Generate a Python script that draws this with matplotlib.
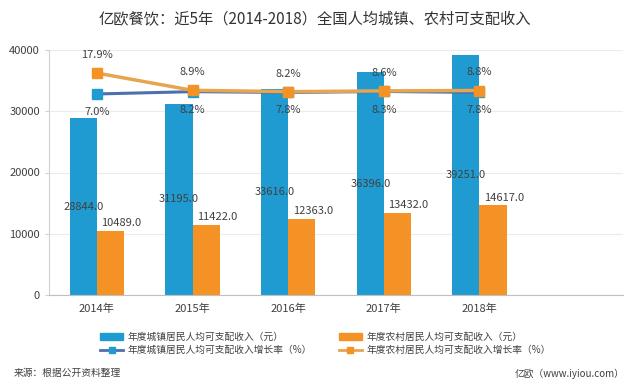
import matplotlib
matplotlib.use("Agg")
import matplotlib.pyplot as plt
from matplotlib.patches import Patch
from matplotlib.lines import Line2D
import numpy as np

plt.rcParams['font.family'] = ['Noto Sans CJK SC', 'DejaVu Sans']

years = ["2014年", "2015年", "2016年", "2017年", "2018年"]
urban_income = [28844.0, 31195.0, 33616.0, 36396.0, 39251.0]
rural_income = [10489.0, 11422.0, 12363.0, 13432.0, 14617.0]
urban_growth = [7.0, 8.2, 7.8, 8.3, 7.8]
rural_growth = [17.9, 8.9, 8.2, 8.6, 8.8]

labels = ["年度城镇居民人均可支配收入（元）", "年度城镇居民人均可支配收入增长率（%）",
          "年度农村居民人均可支配收入（元）", "年度农村居民人均可支配收入增长率（%）"]

BLUE = "#1f9bd1"
ORANGE = "#f59226"
BLUE_LINE = "#4a70ae"
ORANGE_LINE = "#e8a54f"
TXT = "#404040"

fig = plt.figure(figsize=(6.4, 3.85), dpi=100)
ax = fig.add_axes([49/640, 90/385, 574/640, 245/385])

x = np.arange(len(years))
w = 0.283
ax.bar(x - w/2, urban_income, w, color=BLUE, zorder=2)
ax.bar(x + w/2, rural_income, w, color=ORANGE, zorder=2)

for i in range(len(years)):
    ax.text(x[i] - w/2, urban_income[i] / 2, "%.1f" % urban_income[i],
            ha='center', va='center', fontsize=8, color=TXT, zorder=5)
    ax.annotate("%.1f" % rural_income[i], (x[i] + w/2, rural_income[i]),
                xytext=(8, 2), textcoords='offset points',
                ha='center', va='bottom', fontsize=8, color=TXT, zorder=5)

ax.set_xlim(-0.5, 5.5)
ax.set_ylim(0, 40000)
ax.set_yticks([0, 10000, 20000, 30000, 40000])
ax.set_xticks(x)
ax.set_xticklabels(years)
ax.tick_params(axis='x', length=0, pad=6, labelsize=8, labelcolor=TXT)
ax.tick_params(axis='y', length=3, color="#d0d0d0", labelsize=8, labelcolor=TXT)
ax.grid(axis='y', color="#ececec", linewidth=0.8, zorder=0)
for s in ['top', 'right']:
    ax.spines[s].set_visible(False)
ax.spines['left'].set_color("#d0d0d0")
ax.spines['bottom'].set_color("#c0c0c0")

# growth rates on a hidden second axis
ax2 = ax.twinx()
ax2.set_ylim(-97.7, 29.9)
ax2.axis('off')
ax2.plot(x, urban_growth, color=BLUE_LINE, lw=2.2, marker='s', ms=7,
         mfc=BLUE, mec=BLUE, zorder=3)
ax2.plot(x, rural_growth, color=ORANGE_LINE, lw=2.5, marker='s', ms=7,
         mfc=ORANGE, mec=ORANGE, zorder=4)
for i in range(len(years)):
    ax2.annotate("%.1f%%" % rural_growth[i], (x[i], rural_growth[i]),
                 xytext=(0, 13), textcoords='offset points',
                 ha='center', va='center', fontsize=8, color=TXT)
    ax2.annotate("%.1f%%" % urban_growth[i], (x[i], urban_growth[i]),
                 xytext=(0, -13), textcoords='offset points',
                 ha='center', va='center', fontsize=8, color=TXT)

fig.text(315/640, 1 - 20/385, "亿欧餐饮：近5年（2014-2018）全国人均城镇、农村可支配收入",
         ha='center', va='center', fontsize=11, color="#333333")

handles = [Patch(color=BLUE),
           Line2D([], [], color=BLUE_LINE, lw=2, marker='s', ms=5, mfc=BLUE, mec=BLUE),
           Patch(color=ORANGE),
           Line2D([], [], color=ORANGE_LINE, lw=2, marker='s', ms=5, mfc=ORANGE, mec=ORANGE)]
fig.legend(handles, labels, ncol=2, loc='upper left',
           bbox_to_anchor=(100/640, 1 - 332/385), frameon=False, fontsize=7,
           handlelength=2.4, handleheight=0.6, handletextpad=0.4,
           columnspacing=2.8, labelspacing=0.3, borderpad=0, borderaxespad=0,
           labelcolor=TXT)

fig.text(14/640, 1 - 373/385, "来源：根据公开资料整理", ha='left', va='center',
         fontsize=7, color=TXT)
fig.text(625/640, 1 - 374/385, "亿欧（www.iyiou.com）", ha='right', va='center',
         fontsize=7, color=TXT)

fig.savefig("out.png", dpi=100)
